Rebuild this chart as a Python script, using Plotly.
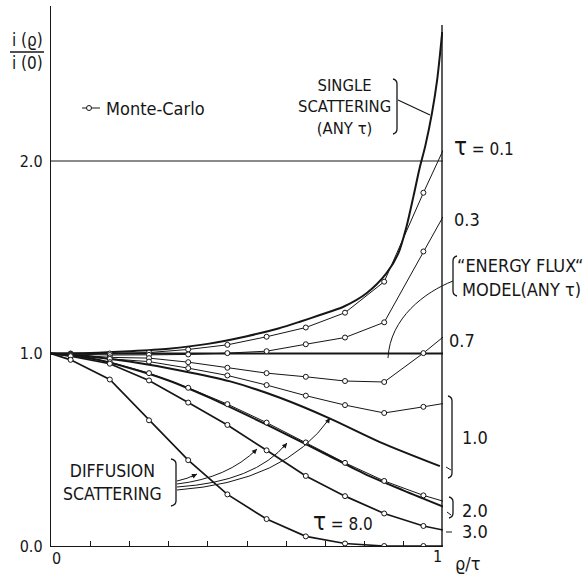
import plotly.graph_objects as go

# ---------------------------------------------------------------- data
# Monte-Carlo sample positions (rho/tau) and curve end points
x_mc = [0.0, 0.05, 0.15, 0.25, 0.35, 0.45, 0.55, 0.65, 0.75, 0.85, 0.95, 1.0]
mc_tau01 = [1.0, 1.0, 1.0, 1.005, 1.021, 1.045, 1.087, 1.135, 1.212, 1.373, 1.835, 2.055]
mc_tau03 = [1.0, 0.998, 0.992, 0.993, 0.995, 1.002, 1.012, 1.048, 1.083, 1.162, 1.53, 1.71]
mc_tau07 = [1.0, 0.995, 0.98, 0.976, 0.955, 0.926, 0.898, 0.879, 0.857, 0.852, 1.002, 1.085]
mc_tau10 = [1.0, 0.992, 0.972, 0.958, 0.924, 0.886, 0.836, 0.781, 0.732, 0.691, 0.723, 0.74]
mc_tau20 = [1.0, 0.99, 0.955, 0.898, 0.822, 0.737, 0.641, 0.538, 0.432, 0.338, 0.263, 0.233]
mc_tau30 = [1.0, 0.986, 0.947, 0.86, 0.745, 0.629, 0.497, 0.364, 0.259, 0.169, 0.104, 0.083]
mc_tau80 = [1.0, 0.967, 0.865, 0.653, 0.446, 0.268, 0.14, 0.05, 0.013, 0.0, 0.0, 0.0]

# single scattering (any tau)
x_single = [0.0, 0.1, 0.2, 0.3, 0.4, 0.5, 0.58, 0.635, 0.686, 0.746, 0.805, 0.856,
            0.886, 0.907, 0.925, 0.94, 0.955, 0.972, 0.985, 0.998]
y_single = [1.0, 1.003, 1.012, 1.025, 1.05, 1.09, 1.13, 1.165, 1.2, 1.243, 1.313, 1.417,
            1.52, 1.66, 1.82, 1.96, 2.08, 2.25, 2.42, 2.67]

# "energy flux" model (any tau)
x_flux = [0.0, 1.0]
y_flux = [1.0, 1.0]

# diffusion scattering, tau = 1.0 and 2.0
x_diff10 = [0.0, 0.1, 0.2, 0.329, 0.457, 0.584, 0.712, 0.839, 0.992]
y_diff10 = [1.0, 0.985, 0.958, 0.912, 0.855, 0.77, 0.662, 0.54, 0.415]
x_diff20 = [0.0, 0.1, 0.2, 0.3, 0.4, 0.5, 0.6, 0.7, 0.8, 0.9, 1.0]
y_diff20 = [1.0, 0.975, 0.925, 0.86, 0.775, 0.68, 0.58, 0.478, 0.375, 0.288, 0.205]

# reference level drawn across the plot
ref_level = 2.0

# axis ticks
x_ticks = [0.0, 0.1, 0.2, 0.3, 0.4, 0.5, 0.6, 0.7, 0.8, 0.9, 1.0]
y_tick_vals = [0.0, 1.0, 2.0]
y_tick_text = ["0.0", "1.0", "2.0"]

# ---------------------------------------------------------------- styling
INK = "#161616"
THIN = 1.0
THICK = 2.0
NARROW = "Liberation Sans Narrow, Arial Narrow, DejaVu Sans Condensed, sans-serif"

W, H = 587, 575
ML, MR, MT, MB = 51, 144, 6, 29
PW, PH = W - ML - MR, H - MT - MB
Y_PER_UNIT = 192.5


def px(xp):
    """page pixel column -> paper x"""
    return (xp - ML) / PW


def py(yp):
    """page pixel row -> paper y"""
    return (H - MB - yp) / PH


fig = go.Figure()


def curve(x, y, width, shape="linear"):
    fig.add_trace(go.Scatter(x=x, y=y, mode="lines", showlegend=False, hoverinfo="skip",
                             line=dict(color=INK, width=width, shape=shape, smoothing=0.8)))


def samples(x, y):
    fig.add_trace(go.Scatter(x=x[1:-1], y=y[1:-1], mode="markers", showlegend=False,
                             hoverinfo="skip",
                             marker=dict(symbol="circle", size=5, color="white",
                                         line=dict(color=INK, width=1))))


# analytic curves (heavy)
curve([0.0, 1.0], [ref_level, ref_level], THIN)
curve(x_flux, y_flux, THICK)
curve(x_single, y_single, THICK, "spline")
curve(x_diff10, y_diff10, THICK, "spline")
curve(x_diff20, y_diff20, THICK, "spline")

# Monte-Carlo curves; tau = 3 and 8 coincide with the diffusion solution
for ys, w in [(mc_tau01, THIN), (mc_tau03, THIN), (mc_tau07, THIN), (mc_tau10, THIN),
              (mc_tau20, THIN), (mc_tau30, THICK * 0.85), (mc_tau80, THICK * 0.85)]:
    curve(x_mc, ys, w)
for ys in [mc_tau01, mc_tau03, mc_tau07, mc_tau10, mc_tau20, mc_tau30, mc_tau80]:
    samples(x_mc, ys)

shapes = []


def seg(x0, y0, x1, y1, w=1.2):
    shapes.append(dict(type="line", xref="paper", yref="paper",
                       x0=px(x0), y0=py(y0), x1=px(x1), y1=py(y1),
                       line=dict(color=INK, width=w)))


def path(d_pts, w=1.0):
    parts = []
    for cmd, pts in d_pts:
        parts.append(cmd + " " + " ".join(f"{px(a):.5f},{py(b):.5f}" for a, b in pts))
    shapes.append(dict(type="path", xref="paper", yref="paper", path=" ".join(parts),
                       line=dict(color=INK, width=w)))


def bracket(xe, y0, y1, hook):
    # vertical bar with short hooks; hook < 0 opens to the left
    path([("M", [(xe + hook, y0 - 1)]), ("Q", [(xe, y0), (xe, y0 + 4)]),
          ("L", [(xe, y1 - 4)]), ("Q", [(xe, y1), (xe + hook, y1 + 1)])], 1.3)


# right-hand boundary at rho/tau = 1
seg(ML + PW - 1, H - MB, ML + PW - 1, 25, 1.4)

# brackets and leaders
bracket(397, 80, 133, -4)           # single scattering
seg(398, 100, 430, 115, 1.2)
bracket(453, 257, 295, 4)           # energy flux model
path([("M", [(453, 281)]), ("C", [(425, 292), (390, 318), (388, 358)])], 1.0)
bracket(452, 397, 477, -4)          # tau = 1.0
seg(446, 467, 451, 470, 1.0)
bracket(453, 498, 517, -4)          # tau = 2.0
seg(447, 512, 451, 515, 1.0)
seg(446, 532, 452, 532, 1.0)        # tau = 3.0
bracket(176, 460, 505, -5)          # diffusion scattering

# arcs from the diffusion bracket to the curves
arcs = [((177, 481), (187, 479), (197, 474)),
        ((177, 484), (228, 478), (257, 449)),
        ((177, 487), (255, 482), (287, 443)),
        ((177, 490), (285, 482), (330, 418))]
annotations = []
for p0, c, p1 in arcs:
    path([("M", [p0]), ("Q", [c, p1])], 1.0)
    dx, dy = p1[0] - c[0], p1[1] - c[1]
    n = (dx * dx + dy * dy) ** 0.5
    annotations.append(dict(xref="paper", yref="paper", x=px(p1[0]), y=py(p1[1]),
                            ax=-8 * dx / n, ay=-8 * dy / n, text="", showarrow=True,
                            arrowhead=2, arrowsize=1.0, arrowwidth=1.0, arrowcolor=INK,
                            standoff=0))

# legend sample
seg(82, 108, 100, 108, 1.0)
shapes.append(dict(type="circle", xref="paper", yref="paper", xsizemode="pixel",
                   ysizemode="pixel", xanchor=px(89), yanchor=py(108),
                   x0=-2.5, x1=2.5, y0=-2.5, y1=2.5,
                   fillcolor="white", line=dict(color=INK, width=1)))

# y label fraction bar
seg(10, 52, 44, 52, 1.6)


def label(text, xp, yp, size=18, xanchor="center", family=NARROW):
    annotations.append(dict(xref="paper", yref="paper", x=px(xp), y=py(yp), text=text,
                            showarrow=False, xanchor=xanchor, yanchor="middle",
                            align="center",
                            font=dict(family=family, size=size, color=INK)))


TAU = '<span style="font-size:24px">τ</span>'
label(TAU + " = 0.1", 452, 147, 17, "left")
label("0.3", 452, 219, 18, "left")
label("0.7", 447, 340, 18, "left")
label("1.0", 460, 437, 18, "left")
label("2.0", 460, 510, 18, "left")
label("3.0", 460, 531, 18, "left")
label(TAU + " = 8.0", 311, 522, 17, "left")

label("SINGLE<br>SCATTERING<br>(ANY τ)", 344, 107, 16.5)
label("DIFFUSION<br>SCATTERING", 112, 482, 17.5)
label("“ENERGY FLUX“", 520, 265, 18)
label("MODEL(ANY τ)", 521, 289, 18)
label("Monte-Carlo", 104, 108, 18, "left")

label("i (ϱ)", 27, 40, 17)
label("i (0)", 27, 63, 17)
label("0", 56, 558, 16)
label("1", 437, 556, 16)
label("ϱ/τ", 468, 563, 18)

fig.update_layout(
    width=W, height=H, margin=dict(l=ML, r=MR, t=MT, b=MB, pad=0),
    paper_bgcolor="white", plot_bgcolor="white",
    shapes=shapes, annotations=annotations, showlegend=False,
    xaxis=dict(range=[0, 1], showgrid=False, zeroline=False, showline=True,
               linecolor=INK, linewidth=1.4, ticks="inside", ticklen=5,
               tickcolor=INK, tickwidth=1, tickvals=x_ticks,
               ticktext=[""] * len(x_ticks), fixedrange=True),
    yaxis=dict(range=[0, PH / Y_PER_UNIT], showgrid=False, zeroline=False,
               showline=True, linecolor=INK, linewidth=1.4, ticks="",
               tickvals=y_tick_vals, ticktext=y_tick_text, ticklabelstandoff=4,
               tickfont=dict(family=NARROW, size=16, color=INK), fixedrange=True),
)

fig.write_html("out.html")
